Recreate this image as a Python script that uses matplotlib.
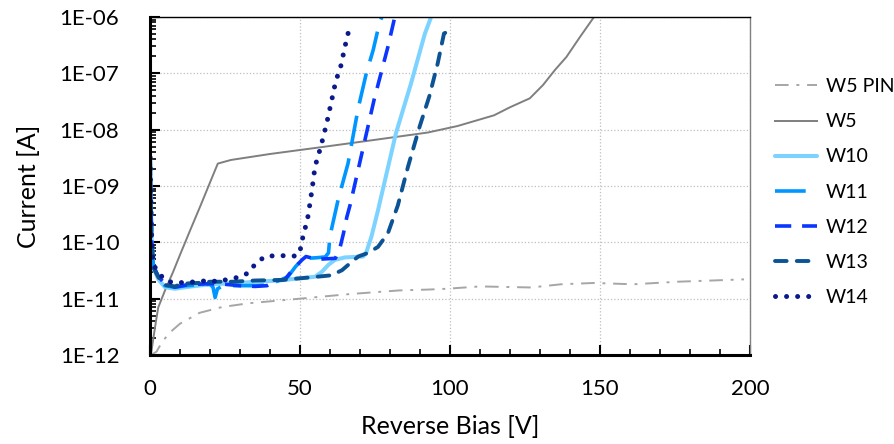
import numpy as np
import matplotlib
matplotlib.use("Agg")
import matplotlib.pyplot as plt
from matplotlib.ticker import FuncFormatter, LogLocator, MultipleLocator, NullFormatter

plt.rcParams['font.family'] = ['Lato', 'DejaVu Sans']

# reverse bias [V] / current [A]
w5pin_v = [0.3, 1, 2.2, 4, 6.6, 10, 16.5, 24, 33, 50, 66, 83, 92.6, 99, 110, 127, 137, 148, 161, 176, 198]
w5pin_i = [1.0e-12, 1.05e-12, 1.15e-12, 1.7e-12, 2.5e-12, 3.6e-12, 5.6e-12, 7.1e-12, 8.3e-12, 1.0e-11,
           1.2e-11, 1.4e-11, 1.45e-11, 1.5e-11, 1.65e-11, 1.58e-11, 1.8e-11, 1.9e-11, 1.8e-11, 2.0e-11, 2.2e-11]

w5_v = [0.3, 1, 2, 2.75, 5, 7.6, 10, 13.2, 17, 20.4, 22.6, 27, 40, 57.2, 75, 92.6, 102.5, 114.7,
        120, 126.6, 131, 135, 138.8, 143.3, 148]
w5_i = [1e-12, 1.8e-12, 4e-12, 7e-12, 1.4e-11, 2.9e-11, 6e-11, 1.55e-10, 4.7e-10, 1.3e-9, 2.5e-9,
        2.9e-9, 3.7e-9, 4.9e-9, 6.6e-9, 8.9e-9, 1.16e-8, 1.8e-8, 2.5e-8, 3.6e-8, 6.2e-8, 1.15e-7,
        1.95e-7, 4.4e-7, 1e-6]

w10_v = [0.05, 0.2, 0.55, 1.1, 2.8, 5, 8.3, 12, 16, 20, 25, 30, 35, 43, 50, 55, 57.3, 59.5, 61.7, 65,
         71, 72, 73.8, 76, 77, 82, 87, 91.6, 93.7]
w10_i = [3e-9, 8e-10, 1.1e-10, 3.5e-11, 2.2e-11, 1.6e-11, 1.5e-11, 1.6e-11, 1.7e-11, 1.8e-11, 1.85e-11,
         1.9e-11, 2.0e-11, 2.1e-11, 2.3e-11, 2.45e-11, 3.0e-11, 4.0e-11, 4.9e-11, 5.4e-11, 5.6e-11,
         6.4e-11, 1.26e-10, 3.7e-10, 6.3e-10, 8.7e-9, 6.6e-8, 5e-7, 1e-6]

w11_v = [0.05, 0.2, 0.55, 1.1, 2.8, 5, 8.3, 12, 16, 20, 21, 21.7, 22.5, 24, 27, 30, 35, 39, 42, 44, 46,
         48.5, 50, 51.8, 55, 58.4, 59.5, 60, 62.8, 66, 69.4, 72.1, 74.4, 76.6, 77.3]
w11_i = [3.2e-9, 9e-10, 1.2e-10, 4e-11, 2.4e-11, 1.7e-11, 1.6e-11, 1.7e-11, 1.75e-11, 1.8e-11, 1.6e-11,
         1.05e-11, 1.5e-11, 1.65e-11, 1.7e-11, 1.7e-11, 1.7e-11, 1.75e-11, 2.0e-11, 2.2e-11, 2.45e-11,
         3.7e-11, 4.5e-11, 5.2e-11, 5.3e-11, 5.5e-11, 6.5e-11, 1.3e-10, 6e-10, 2.5e-9, 2.4e-8, 1.0e-7,
         2.6e-7, 8.3e-7, 1e-6]

w12_v = [0.05, 0.2, 0.55, 1.1, 2.8, 5, 8.3, 12, 16, 20, 25, 30, 35, 39, 42, 45, 47.4, 50.7, 52, 55.5,
         61.8, 63.4, 64.5, 65.6, 66.7, 74.7, 77, 79.3, 81.5, 81.7]
w12_i = [3e-9, 8.5e-10, 1.1e-10, 3.7e-11, 2.5e-11, 1.8e-11, 1.6e-11, 1.75e-11, 1.8e-11, 1.85e-11,
         1.8e-11, 1.7e-11, 1.65e-11, 1.7e-11, 2.1e-11, 2.2e-11, 3.2e-11, 4.9e-11, 5.6e-11, 5.0e-11,
         5.2e-11, 8.3e-11, 1.45e-10, 2.8e-10, 4.6e-10, 3.4e-8, 1e-7, 2.95e-7, 9.5e-7, 1e-6]

w13_v = [0.05, 0.2, 0.55, 1.1, 2.8, 5, 8.3, 11, 16, 20, 27.5, 35, 44, 50, 54, 60.5, 64, 66.8, 69.4,
         72.7, 76, 79.3, 82.6, 86, 89.8, 93.1, 95.9, 98, 98.6]
w13_i = [3e-9, 8e-10, 1.1e-10, 3.6e-11, 2.4e-11, 1.75e-11, 1.65e-11, 1.85e-11, 1.9e-11, 2.0e-11,
         2.0e-11, 2.1e-11, 2.15e-11, 2.3e-11, 2.4e-11, 2.6e-11, 3.2e-11, 4.3e-11, 5.6e-11, 6.5e-11,
         8.3e-11, 1.45e-10, 4.5e-10, 2.2e-9, 1.1e-8, 3.9e-8, 1.5e-7, 5.1e-7, 5.3e-7]

w14_v = [0.05, 0.2, 0.55, 1.1, 2.7, 5, 8.3, 12, 16, 19.3, 23, 26.4, 29.7, 33, 35.3, 38.6, 44, 49, 50.7,
         51, 52.3, 52.9, 54, 55, 56.9, 58.9, 60.6, 62, 63.4, 65, 65.9, 66.8]
w14_i = [3.2e-9, 9e-10, 1.2e-10, 4e-11, 3e-11, 2.1e-11, 1.9e-11, 1.95e-11, 2.0e-11, 2.1e-11, 2.0e-11,
         2.25e-11, 2.4e-11, 2.9e-11, 4.3e-11, 5.7e-11, 5.8e-11, 5.7e-11, 8.9e-11, 1.4e-10, 2.2e-10,
         3.5e-10, 8.5e-10, 2.2e-9, 4.9e-9, 1.3e-8, 3.4e-8, 7.6e-8, 1.2e-7, 3e-7, 4.8e-7, 7.6e-7]

fig = plt.figure(figsize=(8.94, 4.44), dpi=100)
ax = fig.add_axes([150 / 894, 89 / 444, 600 / 894, 338 / 444])

ax.plot(w5pin_v, w5pin_i, color='#A6A6A6', lw=1.4, linestyle=(0, (7, 4, 1.5, 4)), label='W5 PIN')
ax.plot(w5_v, w5_i, color='#7F7F7F', lw=1.4, label='W5')
ax.plot(w10_v, w10_i, color='#7DD3FF', lw=2.9, solid_capstyle='round', label='W10')
ax.plot(w11_v, w11_i, color='#0096FF', lw=2.6, linestyle=(0, (8.5, 3.5)), label='W11')
ax.plot(w12_v, w12_i, color='#0A36FF', lw=2.6, linestyle=(0, (4.5, 3)), label='W12')
ax.plot(w13_v, w13_i, color='#0B5394', lw=2.8, linestyle=(0, (3, 2.6)), dash_capstyle='round', label='W13')
ax.plot(w14_v, w14_i, color='#0A1A8C', lw=3.6, linestyle=(0, (0.01, 2.2)), dash_capstyle='round', label='W14')

ax.set_yscale('log')
ax.set_xlim(0, 200)
ax.set_ylim(1e-12, 1e-6)

ax.xaxis.set_major_locator(MultipleLocator(50))
ax.xaxis.set_minor_locator(MultipleLocator(10))
ax.yaxis.set_major_locator(LogLocator(base=10, numticks=10))
ax.yaxis.set_minor_locator(LogLocator(base=10, subs=np.arange(2, 10), numticks=10))
ax.yaxis.set_minor_formatter(NullFormatter())
ax.yaxis.set_major_formatter(FuncFormatter(lambda y, p: '1E-%02d' % round(-np.log10(y))))

ax.tick_params(axis='both', which='major', direction='in', length=7, width=1.5, labelsize=16)
ax.tick_params(axis='both', which='minor', direction='in', length=4, width=1.2)
ax.tick_params(axis='x', pad=17)
ax.tick_params(axis='y', pad=22)

ax.grid(True, which='major', color='#BFBFBF', linestyle=':', lw=0.9)
ax.set_axisbelow(True)

for s in ['left', 'bottom']:
    ax.spines[s].set_linewidth(2.2)
    ax.spines[s].set_color('black')
ax.spines['top'].set_linewidth(1.0)
ax.spines['top'].set_color('black')
ax.spines['right'].set_linewidth(1.0)
ax.spines['right'].set_color('#808080')

ax.set_xlabel('Reverse Bias [V]', fontsize=18, labelpad=12)
ax.set_ylabel('Current [A]', fontsize=18, labelpad=14)

fig.legend(loc='center left', bbox_to_anchor=(757 / 894, 1 - 192 / 444), frameon=False,
           fontsize=14, handlelength=2.2, labelspacing=0.93, handletextpad=0.45)

fig.savefig('out.png', dpi=100)
